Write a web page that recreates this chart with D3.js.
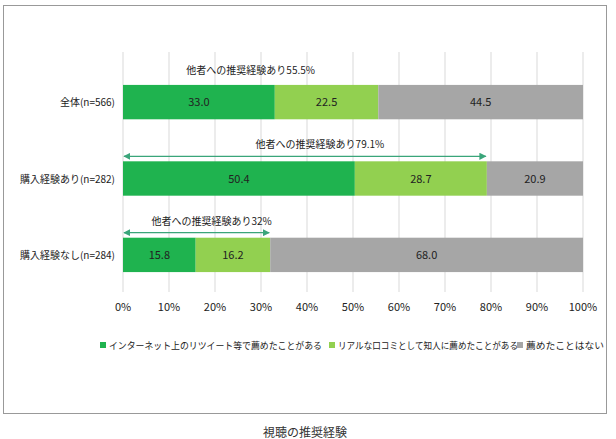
<!DOCTYPE html>
<html><head><meta charset="utf-8">
<script src="https://cdn.jsdelivr.net/npm/d3@7"></script>
<style>body{margin:0;background:#fff;font-family:"Noto Sans CJK JP",sans-serif;}</style>
</head><body><svg id="c" width="616" height="439"></svg>
<script>
const categories = ['全体(n=566)', '購入経験あり(n=282)', '購入経験なし(n=284)'];
const seriesNames = ['インターネット上のリツイート等で薦めたことがある', 'リアルな口コミとして知人に薦めたことがある', '薦めたことはない'];
const online = [33.0, 50.4, 15.8];
const real = [22.5, 28.7, 16.2];
const none = [44.5, 20.9, 68.0];
const notes = ['他者への推奨経験あり55.5%', '他者への推奨経験あり79.1%', '他者への推奨経験あり32%'];
const noteVals = [55.5, 79.1, 32];
const arrows = [false, true, true];
const ticks = [0, 10, 20, 30, 40, 50, 60, 70, 80, 90, 100];
const colors = ['#1fb34f', '#92d050', '#a6a6a6'];

const svg = d3.select('#c');
svg.append('rect').attr('x', 3.5).attr('y', 5.5).attr('width', 603).attr('height', 408)
  .attr('fill', 'none').attr('stroke', '#999');

const x = d3.scaleLinear().domain([0, 100]).range([123, 583]);
const y = d3.scaleBand().domain(categories).range([62, 295]).paddingInner(0.55).paddingOuter(0.3);

svg.append('g').selectAll('line').data(ticks).enter().append('line')
  .attr('x1', d => x(d)).attr('x2', d => x(d)).attr('y1', 52).attr('y2', 292)
  .attr('stroke', '#d9d9d9');

const rows = categories.map((c, i) => {
  const vals = [online[i], real[i], none[i]];
  let acc = 0;
  return vals.map((v, k) => { const s = acc; acc += v; return {c, k, s, v}; });
}).flat();

svg.append('g').selectAll('rect').data(rows).enter().append('rect')
  .attr('x', d => x(d.s)).attr('width', d => x(d.s + d.v) - x(d.s))
  .attr('y', d => y(d.c)).attr('height', y.bandwidth()).attr('fill', d => colors[d.k]);

svg.append('g').selectAll('text').data(rows).enter().append('text')
  .attr('x', d => x(d.s + d.v / 2)).attr('y', d => y(d.c) + y.bandwidth() / 2 + 4)
  .attr('text-anchor', 'middle').attr('font-size', 11).attr('fill', '#222')
  .text(d => d.v.toFixed(1));

svg.append('g').selectAll('text').data(categories).enter().append('text')
  .attr('x', 115).attr('y', d => y(d) + y.bandwidth() / 2 + 4)
  .attr('text-anchor', 'end').attr('font-size', 10).attr('fill', '#222').text(d => d);

svg.append('defs').append('marker').attr('id', 'ah').attr('viewBox', '0 0 10 10')
  .attr('refX', 9).attr('refY', 5).attr('markerWidth', 6).attr('markerHeight', 6)
  .attr('orient', 'auto-start-reverse')
  .append('path').attr('d', 'M0,0L10,5L0,10z').attr('fill', '#3aa57a');

categories.forEach((c, i) => {
  const yb = y(c);
  if (arrows[i]) {
    svg.append('line').attr('x1', x(0) + 1).attr('x2', x(noteVals[i]) - 1)
      .attr('y1', yb - 5).attr('y2', yb - 5).attr('stroke', '#3aa57a').attr('stroke-width', 1.2)
      .attr('marker-start', 'url(#ah)').attr('marker-end', 'url(#ah)');
  }
  svg.append('text').attr('x', x(noteVals[i] / 2) + (arrows[i] ? 15 : 0)).attr('y', yb - (arrows[i] ? 13 : 11))
    .attr('text-anchor', 'middle').attr('font-size', 10).attr('fill', '#222').text(notes[i]);
});

svg.append('g').selectAll('text').data(ticks).enter().append('text')
  .attr('x', d => x(d)).attr('y', 311).attr('text-anchor', 'middle')
  .attr('font-size', 11).attr('fill', '#222').text(d => d + '%');

const lx = [100, 329, 517];
const lw = [213, 180, 78];
const lg = svg.append('g').selectAll('g').data(seriesNames).enter().append('g')
  .attr('transform', (d, i) => `translate(${lx[i]},349)`);
lg.append('rect').attr('x', 0).attr('y', -7).attr('width', 6).attr('height', 6).attr('fill', (d, i) => colors[i]);
lg.append('text').attr('x', 9).attr('y', 0).attr('font-size', 9.5).attr('fill', '#222')
  .attr('textLength', (d, i) => lw[i]).attr('lengthAdjust', 'spacingAndGlyphs').text(d => d);

svg.append('text').attr('x', 305).attr('y', 437).attr('text-anchor', 'middle')
  .attr('font-size', 12).attr('fill', '#333').text('視聴の推奨経験');
</script></body></html>
